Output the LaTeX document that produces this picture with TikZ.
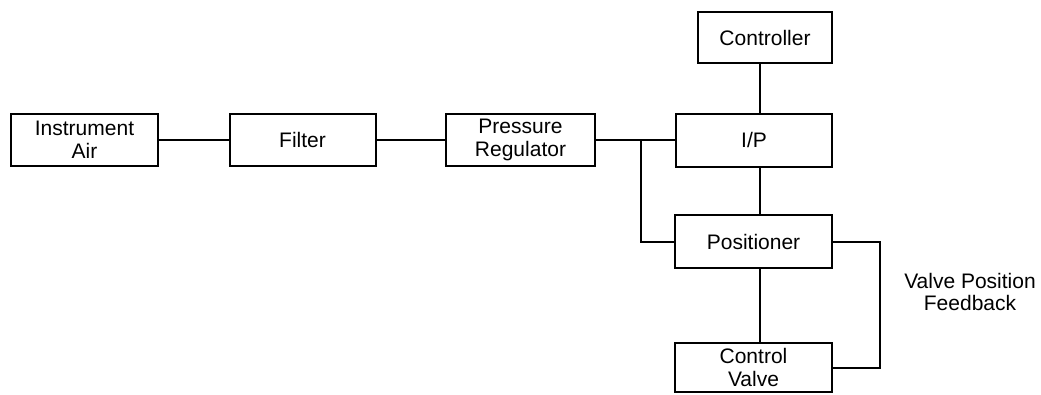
\documentclass[tikz,border=0pt]{standalone}
\usepackage{fontspec}
\setmainfont{Liberation Sans}
\usepackage{tikz}
\usetikzlibrary{positioning}
\tikzstyle{block} = [rectangle, minimum width=147pt, minimum height=52pt, text centered, align=center, draw=black, line width=2pt, fill=white, inner sep=0pt, font=\fontsize{21}{23}\selectfont]
\tikzstyle{line} = [line width=2pt]
\begin{document}
\begin{tikzpicture}[x=1pt, y=-1pt, node distance=218pt]
	\useasboundingbox (0,0) rectangle (1041,394);
	\node (air) [block] at (84.5,140) {Instrument\\Air};
	\node (filter) [block, right of=air, minimum width=146pt] {Filter};
	\node (reg) [block, right of=filter, minimum width=149pt] {Pressure\\Regulator};
	\node (ip) [block, minimum width=156pt, minimum height=53pt] at (754,140) {I/P};
	\node (ctrl) [block, minimum width=134pt, minimum height=51pt] at (765,37.5) {Controller};
	\node (pos) [block, minimum width=157pt, minimum height=53pt] at (753.5,241.5) {Positioner};
	\node (cv) [block, minimum width=157pt, minimum height=49pt] at (753.5,367.5) {Control\\Valve};
	\node (fb) [align=center, font=\fontsize{21}{22}\selectfont] at (970,292) {Valve Position\\Feedback};
	\coordinate (spine) at (760,0);
	\coordinate (split) at (641,0);
	\coordinate (loop) at (880,0);

	\draw [line] (air) -- (filter);
	\draw [line] (filter) -- (reg);
	\draw [line] (reg.east) -- (reg.east -| ip.west);
	\draw [line] (reg.east -| split) |- (pos.west);
	\draw [line] (ctrl.south -| spine) -- (ip.north -| spine);
	\draw [line] (ip.south -| spine) -- (pos.north -| spine);
	\draw [line] (pos.south -| spine) -- (cv.north -| spine);
	\draw [line] (pos.east) -| (loop |- cv.east) -- (cv.east);
\end{tikzpicture}
\end{document}
